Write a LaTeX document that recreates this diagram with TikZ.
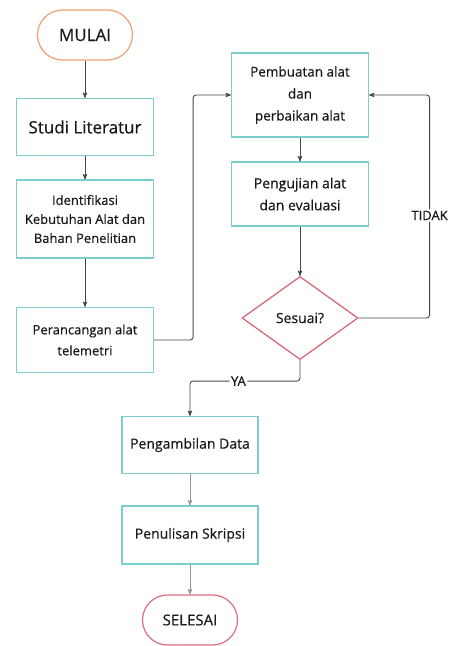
\documentclass[tikz,border=0pt]{standalone}
\usepackage{fontspec}
\setmainfont{Open Sans}[FakeBold=0.5]
\usetikzlibrary{arrows,positioning,shapes.geometric}

\definecolor{boxline}{RGB}{125,205,205}
\definecolor{startline}{RGB}{238,160,115}
\definecolor{stopline}{RGB}{220,110,125}
\definecolor{decline}{RGB}{215,95,110}
\definecolor{darkflow}{RGB}{70,70,70}
\definecolor{lightflow}{RGB}{150,150,150}

\begin{document}
\begin{tikzpicture}
[
	              x = 1pt,
	              y = -1pt,
	           ->, >= stealth',
	    flow/.style = { draw=darkflow, line width=0.9pt, rounded corners=3pt },
	 flowlow/.style = { flow, draw=lightflow },
	 process/.style = { draw=boxline, line width=1.2pt, rectangle, inner sep=2pt,
	                    minimum width=137pt, align=center, text=black!90, font=\fontsize{13}{19}\selectfont },
	terminal/.style = { process, rounded corners=25pt, minimum width=95pt, minimum height=50pt },
	decision/.style = { draw=decline, line width=1.2pt, diamond, inner sep=0pt, aspect=1.4,
	                    minimum width=116pt, minimum height=83pt, text=black!90, font=\fontsize{14}{17}\selectfont },
	  answer/.style = { fill=white, inner sep=1.5pt, text=black!90, font=\fontsize{13}{15}\selectfont }
]
	\useasboundingbox (0,0) rectangle (450,646);

	% left column
	\node (mulai)   at (85,35)   [terminal, draw=startline, font=\fontsize{17}{20}\selectfont] {MULAI};
	\node (studi)   at (85,127)  [process, minimum height=57pt, font=\fontsize{17}{20}\selectfont] {Studi Literatur};
	\node (ident)   at (85,219)  [process, minimum height=78pt] {Identifikasi\\Kebutuhan Alat dan\\Bahan Penelitian};
	\node (rancang) at (85,340)  [process, minimum height=65pt, font=\fontsize{13}{21}\selectfont] {Perancangan alat\\telemetri};

	% right column
	\node (buat)    at (300,95)  [process, minimum height=84pt, font=\fontsize{13.5}{22}\selectfont] {Pembuatan alat\\dan\\perbaikan alat};
	\node (uji)     at (300,194) [process, minimum height=64pt, font=\fontsize{14}{22}\selectfont] {Pengujian alat\\dan evaluasi};
	\node (sesuai)  at (300,318) [decision] {Sesuai?};

	% bottom column
	\node (ambil)   at (190,445) [process, minimum width=136pt, minimum height=57pt, font=\fontsize{14}{17}\selectfont] {Pengambilan Data};
	\node (tulis)   at (190,535) [process, minimum width=136pt, minimum height=58pt, font=\fontsize{14}{17}\selectfont] {Penulisan Skripsi};
	\node (selesai) at (190,620) [terminal, draw=stopline, font=\fontsize{15}{18}\selectfont] {SELESAI};

	\draw [flow] (mulai) -- (studi);
	\draw [flow] (studi) -- (ident);
	\draw [flow] (ident) -- (rancang);
	\draw [flow] (rancang.east) -- ++(39,0) |- (buat.west);
	\draw [flow] (buat) -- (uji);
	\draw [flow] (uji) -- (sesuai);
	\draw [flow] (sesuai.east) -- ++(71,0) |- (buat.east)
		node [answer, pos=0.23] {TIDAK};
	\draw [flow] (sesuai.south) -- ++(0,21) -| (ambil.north)
		node [answer, pos=0.28] {YA};
	\draw [flowlow] (ambil) -- (tulis);
	\draw [flowlow] (tulis) -- (selesai);
\end{tikzpicture}
\end{document}
